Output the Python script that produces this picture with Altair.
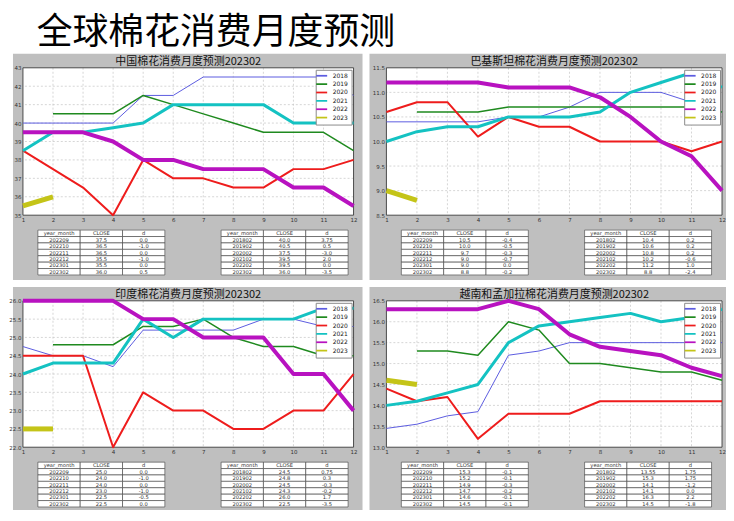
import altair as alt
import pandas as pd

months = list(range(1, 13))
years = ["2018", "2019", "2020", "2021", "2022", "2023"]
line_colors = ["#5c5ce0", "#1f8a1f", "#ee1c1c", "#14c2c2", "#b812c0", "#c4c418"]
line_widths = [1.0, 1.5, 2.0, 3.0, 4.0, 5.0]

# ---------------- China ----------------
cn_title = "中国棉花消费月度预测202302"
cn_2018 = [40, 40, 40, 40, 41.5, 41.5, 42.5, 42.5, 42.5, 42.5, 42.5, 41.5]
cn_2019 = [None, 40.5, 40.5, 40.5, 41.5, 41, 40.5, 40, 39.5, 39.5, 39.5, 38.5]
cn_2020 = [38.5, 37.5, 36.5, 35, 38, 37, 37, 36.5, 36.5, 37.5, 37.5, 38]
cn_2021 = [38.5, 39.5, 39.5, 39.75, 40, 41, 41, 41, 41, 40, 40, 40]
cn_2022 = [39.5, 39.5, 39.5, 39, 38, 38, 37.5, 37.5, 37.5, 36.5, 36.5, 35.5]
cn_2023 = [35.5, 36]
cn_yticks = [35, 36, 37, 38, 39, 40, 41, 42, 43]
cn_recent_close = ["37.5", "36.5", "36.5", "35.5", "35.5", "36.0"]
cn_recent_d = ["0.0", "-1.0", "0.0", "-1.0", "0.0", "0.5"]
cn_feb_close = ["40.0", "40.5", "37.5", "39.5", "39.5", "36.0"]
cn_feb_d = ["3.75", "0.5", "-3.0", "2.0", "0.0", "-3.5"]

# ---------------- Pakistan ----------------
pk_title = "巴基斯坦棉花消费月度预测202302"
pk_2018 = [10.4, 10.4, 10.4, 10.4, 10.5, 10.5, 10.7, 11.0, 11.0, 11.0, 10.8, 10.6]
pk_2019 = [None, 10.6, 10.6, 10.6, 10.7, 10.7, 10.7, 10.7, 10.7, 10.7, 10.7, 10.6]
pk_2020 = [10.6, 10.8, 10.8, 10.1, 10.5, 10.3, 10.3, 10.0, 10.0, 10.0, 9.8, 10.0]
pk_2021 = [10.0, 10.2, 10.3, 10.3, 10.5, 10.5, 10.5, 10.6, 11.0, 11.2, 11.4, 11.1]
pk_2022 = [11.2, 11.2, 11.2, 11.2, 11.1, 11.1, 11.1, 10.9, 10.5, 10.0, 9.7, 9.0]
pk_2023 = [9.0, 8.8]
pk_yticks = [8.5, 9.0, 9.5, 10.0, 10.5, 11.0, 11.5]
pk_recent_close = ["10.5", "10.0", "9.7", "9.0", "9.0", "8.8"]
pk_recent_d = ["-0.4", "-0.5", "-0.3", "-0.7", "0.0", "-0.2"]
pk_feb_close = ["10.4", "10.6", "10.8", "10.2", "11.2", "8.8"]
pk_feb_d = ["0.2", "0.2", "0.2", "-0.6", "1.0", "-2.4"]

# ---------------- India ----------------
in_title = "印度棉花消费月度预测202302"
in_2018 = [24.75, 24.5, 24.5, 24.2, 25.2, 25.2, 25.2, 25.2, 25.5, 25.5, 25.3, 25.3]
in_2019 = [None, 24.8, 24.8, 24.8, 25.3, 25.3, 25.5, 25.0, 24.75, 24.75, 24.5, 24.5]
in_2020 = [24.5, 24.5, 24.5, 22.0, 23.5, 23.0, 23.0, 22.5, 22.5, 23.0, 23.0, 24.0]
in_2021 = [24.0, 24.3, 24.3, 24.3, 25.5, 25.0, 25.5, 25.5, 25.5, 25.5, 25.8, 25.8]
in_2022 = [26.0, 26.0, 26.0, 26.0, 25.5, 25.5, 25.0, 25.0, 25.0, 24.0, 24.0, 23.0]
in_2023 = [22.5, 22.5]
in_yticks = [22.0, 22.5, 23.0, 23.5, 24.0, 24.5, 25.0, 25.5, 26.0]
in_recent_close = ["25.0", "24.0", "24.0", "23.0", "22.5", "22.5"]
in_recent_d = ["0.0", "-1.0", "0.0", "-1.0", "-0.5", "0.0"]
in_feb_close = ["24.5", "24.8", "24.5", "24.3", "26.0", "22.5"]
in_feb_d = ["0.75", "0.3", "-0.3", "-0.2", "1.7", "-3.5"]

# ---------------- Vietnam & Bangladesh ----------------
vb_title = "越南和孟加拉棉花消费月度预测202302"
vb_2018 = [13.45, 13.55, 13.75, 13.85, 15.2, 15.3, 15.5, 15.5, 15.5, 15.5, 15.5, 15.5]
vb_2019 = [None, 15.3, 15.3, 15.2, 16.0, 15.8, 15.0, 15.0, 14.9, 14.8, 14.8, 14.6]
vb_2020 = [14.4, 14.1, 14.2, 13.2, 13.8, 13.8, 13.8, 14.1, 14.1, 14.1, 14.1, 14.1]
vb_2021 = [14.0, 14.1, 14.3, 14.5, 15.5, 15.9, 16.0, 16.1, 16.2, 16.0, 16.1, 16.3]
vb_2022 = [16.3, 16.3, 16.3, 16.3, 16.5, 16.3, 15.7, 15.4, 15.3, 15.2, 14.9, 14.7]
vb_2023 = [14.6, 14.5]
vb_yticks = [13.0, 13.5, 14.0, 14.5, 15.0, 15.5, 16.0, 16.5]
vb_recent_close = ["15.3", "15.2", "14.9", "14.7", "14.6", "14.5"]
vb_recent_d = ["-0.1", "-0.1", "-0.3", "-0.2", "-0.1", "-0.1"]
vb_feb_close = ["13.55", "15.3", "14.1", "14.1", "16.3", "14.5"]
vb_feb_d = ["1.75", "1.75", "-1.2", "0.0", "2.2", "-1.8"]

recent_ym = ["202209", "202210", "202211", "202212", "202301", "202302"]
feb_ym = ["201802", "201902", "202002", "202102", "202202", "202302"]
table_header = ["year_month", "CLOSE", "d"]

MAIN_TITLE = "全球棉花消费月度预测"

# ---------------- styling / layout ----------------
GRAY = "#bfbfbf"
CJK = "Noto Sans CJK SC"
SANS = "DejaVu Sans"
W1, W2 = 332, 337
H_TOP, H_BOT = 148, 147
TAB_H_TOP, TAB_H_BOT = 56, 45
COL_PX = 42.5       # width of one table column in pixels
TAB_LEFT_PX = 15    # left table offset from plot left
TAB_RIGHT_PX = 199  # right table offset from plot left


def line_panel(title, series, yticks, yfmt, W, H, gl, gr, gb):
    one = pd.DataFrame({"k": [0]})
    xaxis = alt.Axis(values=months, format="d", title=None, labelFlush=False, zindex=2)
    yaxis = alt.Axis(values=yticks, format=yfmt, title=None, zindex=2)
    xs = alt.X("month:Q", scale=alt.Scale(domain=[1, 12], nice=False, zero=False), axis=xaxis)
    ys = alt.Y("value:Q", scale=alt.Scale(domain=[yticks[0], yticks[-1]], nice=False, zero=False), axis=yaxis)
    leg = alt.Legend(orient="top-right", offset=2, title=None, fillColor="white",
                     strokeColor="#8a8a8a", padding=3, labelFontSize=6, labelFont=SANS,
                     labelColor="#222", symbolType="M-5.5,0H5.5", symbolSize=4,
                     symbolStrokeWidth=1.75, rowPadding=0.4, labelOffset=8, zindex=2)
    color = alt.Color("year:O", scale=alt.Scale(domain=years, range=line_colors), legend=leg)

    gray = alt.Chart(one).mark_rect(color=GRAY).encode(
        x=alt.value(-gl), x2=alt.value(W + gr), y=alt.value(-14), y2=alt.value(H + gb))
    white = alt.Chart(one).mark_rect(color="white").encode(
        x=alt.value(0), x2=alt.value(W), y=alt.value(0), y2=alt.value(H))
    ygrid = alt.Chart(pd.DataFrame({"value": yticks[1:-1]})).mark_rule(
        color="#c4c4c4", strokeDash=[2, 2], strokeWidth=0.7).encode(y=ys)
    xgrid = alt.Chart(pd.DataFrame({"month": months[1:-1]})).mark_rule(
        color="#c4c4c4", strokeDash=[2, 2], strokeWidth=0.7).encode(x=xs)
    frame = alt.Chart(one).mark_rect(fillOpacity=0, stroke="#3a3a3a", strokeWidth=0.9).encode(
        x=alt.value(0), x2=alt.value(W), y=alt.value(0), y2=alt.value(H))

    layers = [gray, white, ygrid, xgrid, frame]
    for yr, vals, lw in zip(years, series, line_widths):
        rows = [{"year": yr, "month": m, "value": v} for m, v in zip(months, vals) if v is not None]
        layers.append(
            alt.Chart(pd.DataFrame(rows)).mark_line(strokeWidth=lw, strokeJoin="round").encode(
                x=xs, y=ys, color=color)
        )
    return alt.layer(*layers).properties(
        width=W, height=H,
        title=alt.TitleParams(title, fontSize=11, font=CJK, fontWeight="normal",
                              color="#111", offset=-13, anchor="middle", frame="group", zindex=2),
    )


def table_panel(left_cols, right_cols, W, Ht, po):
    cells = []
    gap = (TAB_RIGHT_PX - TAB_LEFT_PX) / COL_PX
    for cols, start in [(left_cols, 0.0), (right_cols, gap)]:
        for c in range(3):
            vals = [table_header[c]] + list(cols[c])
            for r, txt in enumerate(vals):
                cells.append({"x0": start + c, "x1": start + c + 1,
                              "xc": start + c + 0.5, "row": r, "txt": txt})
    df = pd.DataFrame(cells)
    d0 = -TAB_LEFT_PX / COL_PX
    d1 = d0 + W / COL_PX
    xsc = alt.Scale(domain=[d0, d1], nice=False, zero=False)
    ysc = alt.Scale(domain=list(range(7)), paddingInner=0, paddingOuter=po, align=0)
    rect = alt.Chart(df).mark_rect(fill="white", stroke="#3c3c3c", strokeWidth=0.6).encode(
        x=alt.X("x0:Q", scale=xsc, axis=None), x2="x1:Q",
        y=alt.Y("row:O", scale=ysc, axis=None))
    text = alt.Chart(df).mark_text(fontSize=5.2, font=SANS, color="#333", baseline="middle").encode(
        x=alt.X("xc:Q", scale=xsc, axis=None),
        y=alt.Y("row:O", scale=ysc, axis=None), text="txt:N")
    return alt.layer(rect, text).properties(width=W, height=Ht)


p1 = line_panel(cn_title, [cn_2018, cn_2019, cn_2020, cn_2021, cn_2022, cn_2023],
                cn_yticks, "d", W1, H_TOP, 10, 9, 65)
p2 = line_panel(pk_title, [pk_2018, pk_2019, pk_2020, pk_2021, pk_2022, pk_2023],
                pk_yticks, ".1f", W2, H_TOP, 17, 4, 65)
p3 = line_panel(in_title, [in_2018, in_2019, in_2020, in_2021, in_2022, in_2023],
                in_yticks, ".1f", W1, H_BOT, 10, 9, 63)
p4 = line_panel(vb_title, [vb_2018, vb_2019, vb_2020, vb_2021, vb_2022, vb_2023],
                vb_yticks, ".1f", W2, H_BOT, 17, 4, 63)

t1 = table_panel([recent_ym, cn_recent_close, cn_recent_d], [feb_ym, cn_feb_close, cn_feb_d], W1, TAB_H_TOP, 0.855)
t2 = table_panel([recent_ym, pk_recent_close, pk_recent_d], [feb_ym, pk_feb_close, pk_feb_d], W2, TAB_H_TOP, 0.855)
t3 = table_panel([recent_ym, in_recent_close, in_recent_d], [feb_ym, in_feb_close, in_feb_d], W1, TAB_H_BOT, 0)
t4 = table_panel([recent_ym, vb_recent_close, vb_recent_d], [feb_ym, vb_feb_close, vb_feb_d], W2, TAB_H_BOT, 0)

chart = alt.concat(
    p1, p2, t1, t2, p3, p4, t3, t4,
    columns=2, spacing={"row": 15, "column": 33}, bounds="flush", align="each",
).resolve_scale(
    x="independent", y="independent", color="independent"
).resolve_legend(
    color="independent"
).properties(
    title=alt.TitleParams(MAIN_TITLE, fontSize=36, font=CJK, fontWeight="normal",
                          color="black", anchor="start", dx=28, offset=2),
    padding={"left": 0, "top": 6, "right": 0, "bottom": 0}, background="white",
).configure_view(
    strokeWidth=0
).configure_axis(
    labelFontSize=5.5, labelFont=SANS, labelColor="#333", ticks=False, domain=False,
    grid=False, labelPadding=2
)

chart.save("out.html", embed_options={"renderer": "svg", "actions": False})
